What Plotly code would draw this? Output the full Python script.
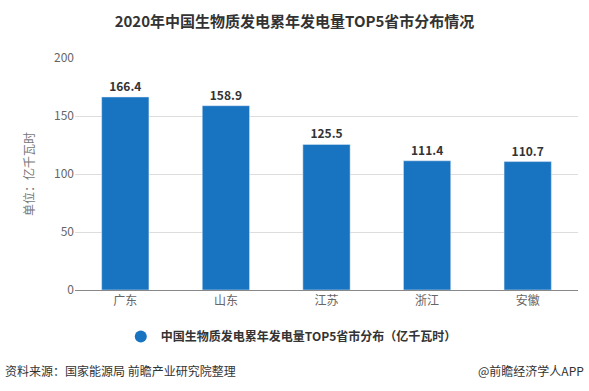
import plotly.graph_objects as go

categories = ["广东", "山东", "江苏", "浙江", "安徽"]
values = [166.4, 158.9, 125.5, 111.4, 110.7]
y_ticks = [0, 50, 100, 150, 200]
series_name = "中国生物质发电累年发电量TOP5省市分布（亿千瓦时）"
title_text = "2020年中国生物质发电累年发电量TOP5省市分布情况"

BLUE = "#1874c1"
FONT = "Noto Sans CJK SC"

fig = go.Figure()
fig.add_trace(go.Bar(
    x=categories, y=values, marker_color=BLUE, showlegend=False,
    text=[f"{v:.1f}" for v in values], textposition="outside",
    textfont=dict(family=FONT, size=12, color="#333333", weight="bold"),
    cliponaxis=False,
))
fig.add_trace(go.Scatter(
    x=[None], y=[None], mode="markers", name=series_name,
    marker=dict(symbol="circle", size=12, color=BLUE),
))

fig.update_layout(
    width=589, height=391,
    margin=dict(l=75, r=11, t=58, b=101, autoexpand=False),
    paper_bgcolor="white", plot_bgcolor="white",
    bargap=0.53,
    font=dict(family=FONT, size=12, color="#666666"),
    title=dict(text=title_text, x=0.5, xanchor="center", y=0.945, yanchor="middle",
               font=dict(family=FONT, size=15, color="#333333", weight="bold")),
    xaxis=dict(showgrid=False, showline=True, linecolor="#888888", linewidth=1,
               ticks="", tickfont=dict(size=12, color="#666666"), automargin=False),
    yaxis=dict(range=[0, 200], tickvals=y_ticks, showgrid=True, gridcolor="#dddddd",
               zeroline=False, ticks="", ticklen=0, automargin=False,
               tickfont=dict(size=12, color="#666666"),
               title=dict(text="单位：亿千瓦时", standoff=16,
                          font=dict(size=12, color="#777777"))),
    legend=dict(orientation="h", x=0.43, xanchor="center", y=-0.2, yanchor="middle",
                font=dict(family=FONT, size=12, color="#333333", weight="bold")),
)

fig.add_annotation(text="资料来源：国家能源局 前瞻产业研究院整理", xref="paper", yref="paper",
                   x=-72/503, y=(290-370)/232, xanchor="left", yanchor="middle",
                   showarrow=False, font=dict(family=FONT, size=12, color="#333333"))
fig.add_annotation(text="@前瞻经济学人APP", xref="paper", yref="paper",
                   x=(586-75)/503, y=(290-370)/232, xanchor="right", yanchor="middle",
                   showarrow=False, font=dict(family=FONT, size=12, color="#333333"))

fig.write_html("out.html", config={"displayModeBar": False},
               post_script="document.body.style.margin='0';")
